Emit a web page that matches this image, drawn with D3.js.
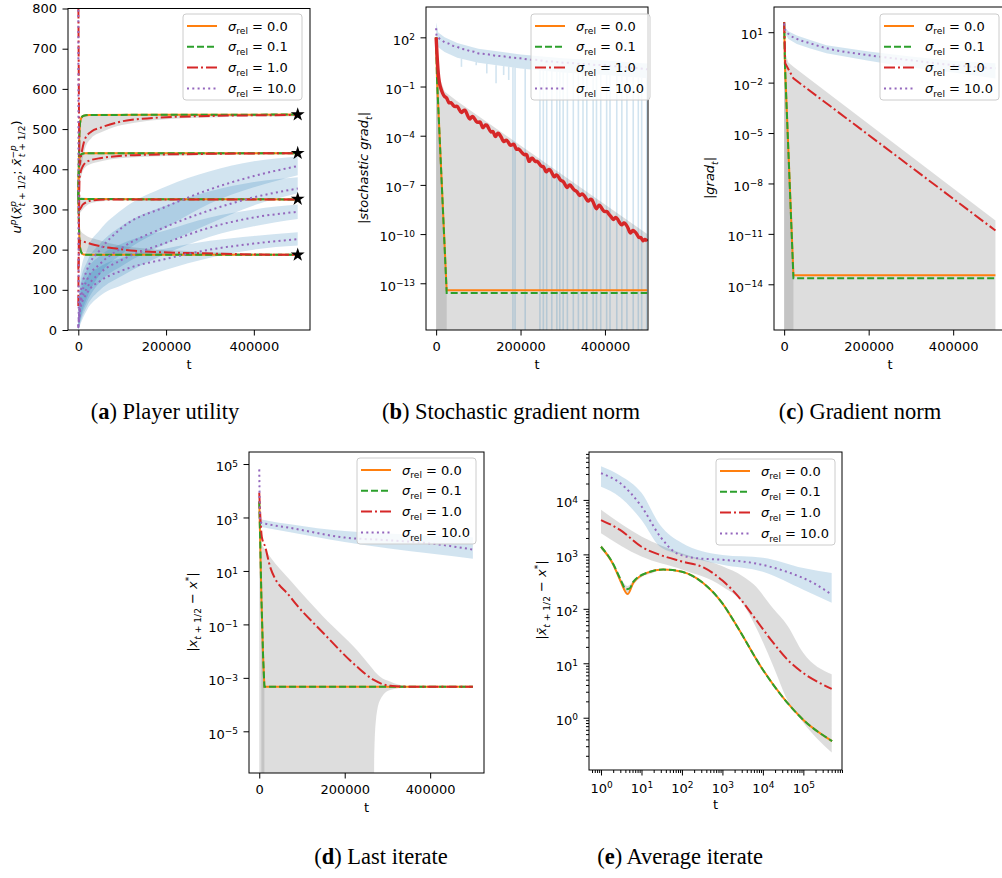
<!DOCTYPE html>
<html>
<head>
<meta charset="utf-8">
<script src="https://cdn.jsdelivr.net/npm/d3@7"></script>
<style>
  body { margin: 0; background: #fff; }
  svg { font-family: "DejaVu Sans", sans-serif; }
  .cap { font-family: "Liberation Serif", "Times New Roman", serif; }
</style>
</head>
<body>
<script>
// ---- data ----
// legend entries
const sigmas = ["0.0", "0.1", "1.0", "10.0"];
const captions = [["a", "Player utility"], ["b", "Stochastic gradient norm"], ["c", "Gradient norm"],
                  ["d", "Last iterate"], ["e", "Average iterate"]];

// (a) player utility, [t, value], one curve per player
const aTicksX = [0, 200000, 400000];
const aTicksY = [0, 100, 200, 300, 400, 500, 600, 700, 800];
const aStars = [536, 440, 326, 187];
const aSigma0 = [
  [[0, 330], [2000, 470], [4000, 515], [7000, 528], [12000, 533], [25000, 535], [500000, 536]],
  [[0, 330], [2000, 415], [4000, 432], [8000, 438], [15000, 440], [500000, 440]],
  [[0, 330], [3000, 326], [500000, 325]],
  [[0, 330], [2000, 240], [4000, 205], [7000, 193], [12000, 188], [25000, 187], [500000, 187]]
];
const aSigma01 = aSigma0; // identical to sigma 0.0 at this scale
const aSigma1 = [
  [[0, 850], [3000, 410], [6000, 431], [15000, 475], [30000, 494], [52000, 504], [128000, 524], [273000, 532], [500000, 535]],
  [[0, 60], [3000, 380], [10000, 407], [22000, 420], [52000, 428], [128000, 435], [273000, 438], [500000, 440]],
  [[0, 300], [3000, 300], [10000, 312], [30000, 322], [80000, 325], [500000, 325]],
  [[0, 150], [4000, 222], [10700, 220], [52000, 208], [90000, 202], [128000, 197], [205000, 193], [273000, 191], [400000, 188], [500000, 187]]
];
const aSigma10 = [
  [[0, 850], [1000, 20], [5000, 90], [20000, 150], [50000, 200], [100000, 255], [200000, 307], [300000, 350], [400000, 383], [500000, 408]],
  [[0, 10], [5000, 75], [20000, 125], [50000, 165], [100000, 205], [200000, 257], [300000, 298], [400000, 330], [500000, 352]],
  [[0, 8], [5000, 65], [20000, 105], [50000, 142], [100000, 175], [200000, 217], [300000, 255], [400000, 280], [500000, 294]],
  [[0, 5], [5000, 55], [20000, 92], [50000, 122], [100000, 148], [200000, 177], [300000, 200], [400000, 215], [500000, 226]]
];
// [t, low, high]
const aBand1 = [
  [[3000, 380, 520], [6000, 400, 530], [15000, 450, 534], [30000, 478, 535], [52000, 492, 536], [128000, 516, 537], [273000, 528, 537], [500000, 532, 538]],
  [[3000, 360, 436], [10000, 395, 441], [22000, 410, 442], [52000, 420, 443], [128000, 430, 443], [273000, 435, 442], [500000, 438, 442]],
  [[3000, 290, 332], [10000, 300, 330], [30000, 316, 328], [80000, 322, 327], [500000, 324, 326]],
  [[3000, 195, 250], [10700, 193, 240], [52000, 192, 222], [128000, 188, 205], [273000, 186, 195], [500000, 185, 189]]
];
const aBand10 = [
  [[0, 0, 50], [5000, 30, 140], [20000, 80, 200], [50000, 140, 250], [100000, 190, 300], [200000, 255, 357], [300000, 315, 395], [400000, 355, 420], [500000, 385, 432]],
  [[0, 0, 40], [5000, 25, 120], [20000, 70, 170], [50000, 120, 215], [100000, 160, 260], [200000, 215, 310], [300000, 265, 345], [400000, 310, 368], [500000, 340, 380]],
  [[0, 0, 30], [5000, 20, 108], [20000, 60, 150], [50000, 100, 185], [100000, 135, 215], [200000, 190, 248], [300000, 232, 280], [400000, 258, 300], [500000, 276, 312]],
  [[0, 0, 20], [5000, 15, 95], [20000, 50, 130], [50000, 85, 158], [100000, 112, 180], [200000, 150, 203], [300000, 180, 222], [400000, 200, 234], [500000, 210, 243]]
];

// (b) stochastic gradient norm, values are log10
const bTicksY = [2, -1, -4, -7, -10, -13];
const bSigma0 = [[0, 2.0], [2000, -0.5], [25000, -13.43], [500000, -13.43]];
const bSigma01 = [[0, 2.0], [2000, -0.5], [25000, -13.6], [500000, -13.6]];
const bGrid = d3.range(0, 500001, 5000);
const bSigma1 = [2.0, -0.5, -1.05, -1.4, -1.65,
  -1.64, -2.08, -1.92, -2.16, -2.25, -2.14, -2.43, -2.67, -2.41, -2.45,
  -2.81, -3.08, -2.75, -2.91, -3.15, -3.22, -3.08, -3.62, -3.36, -3.30,
  -3.57, -3.86, -3.63, -4.21, -3.79, -3.90, -4.11, -4.44, -4.23, -4.32,
  -4.63, -4.56, -4.47, -4.91, -4.75, -4.94, -5.08, -5.22, -5.03, -5.75,
  -5.31, -5.40, -5.62, -5.51, -5.75, -5.92, -5.81, -6.32, -6.06, -6.05,
  -6.29, -6.60, -6.31, -6.51, -6.77, -6.74, -6.93, -7.27, -6.96, -7.05,
  -7.27, -7.36, -7.42, -7.74, -7.49, -7.62, -7.81, -8.07, -7.83, -7.90,
  -8.23, -8.58, -8.17, -8.31, -8.55, -8.66, -8.58, -8.84, -8.93, -9.20,
  -8.91, -9.08, -9.32, -9.51, -9.25, -9.42, -9.61, -10.07, -9.71, -9.85,
  -9.94, -10.28, -10.12, -10.51, -10.25, -10.44];
const bSigma10 = [[0, 2.55], [1000, 2.05], [5000, 1.98], [10000, 1.88], [20000, 1.7], [30000, 1.62], [40000, 1.48],
  [50000, 1.42], [60000, 1.3], [70000, 1.27], [80000, 1.15], [90000, 1.12], [100000, 1.02], [120000, 0.98],
  [140000, 0.88], [160000, 0.84], [180000, 0.76], [200000, 0.72], [220000, 0.64], [240000, 0.62], [260000, 0.53],
  [280000, 0.52], [300000, 0.45], [320000, 0.44], [340000, 0.38], [360000, 0.37], [380000, 0.31], [400000, 0.3],
  [420000, 0.24], [440000, 0.21], [460000, 0.14], [480000, 0.12], [500000, 0.05]];
const bBand0 = [[0, -20, 2.0], [2000, -20, -0.4], [25000, -20, -13.3]];
const bBand1 = [[0, -20, 2.0], [2000, -20, 0.6], [5000, -20, 0.0], [10000, -20, -0.6], [20000, -20, -1.3],
  [50000, -20, -1.9], [100000, -20, -2.8], [200000, -20, -4.6], [300000, -20, -6.4], [400000, -20, -8.2], [500000, -20, -10.0]];
const bBand10 = [[0, 1.6, 2.9], [5000, 1.4, 2.3], [20000, 1.1, 2.0], [50000, 0.75, 1.65], [100000, 0.45, 1.3],
  [200000, 0.1, 0.95], [300000, -0.15, 0.72], [400000, -0.3, 0.58], [500000, -0.5, 0.4]];
// dips of the sigma=10 band: [t, lowest log10]
const bSpikes = [[60000, 0.2], [95000, 0.3], [120000, -0.2], [142000, -0.8], [160000, -0.3], [172000, -0.6],
  [182000, -20], [187000, -20], [211000, -20], [246000, -20], [254000, -20], [262000, -20], [274000, -20],
  [286000, -20], [293000, -20], [301000, -20], [311000, -20], [325000, -20], [337000, -20], [348000, -20],
  [357000, -20], [372000, -20], [380000, -20], [390000, -20], [404000, -20], [412000, -20], [428000, -20],
  [440000, -20], [452000, -20], [467000, -20], [479000, -20], [487000, -20], [499000, -20]];

// (c) gradient norm, log10
const cTicksY = [1, -2, -5, -8, -11, -14];
const cSigma0 = [[0, 1.6], [2000, -1.0], [22000, -13.46], [500000, -13.46]];
const cSigma01 = [[0, 1.6], [2000, -1.0], [22000, -13.64], [500000, -13.64]];
const cSigma1 = [[0, 1.6], [2500, -0.85], [22000, -1.75], [500000, -10.8]];
const cSigma10 = [[0, 1.52], [3000, 1.1], [10000, 0.9], [30000, 0.6], [60000, 0.35], [100000, 0.05],
  [200000, -0.37], [300000, -0.67], [400000, -0.96], [500000, -1.15]];
const cBand0 = [[0, -20, 1.7], [2000, -20, -0.9], [22000, -20, -13.3]];
const cBand1 = [[0, -20, 1.6], [3000, -20, -0.3], [10000, -20, -0.8], [22000, -20, -1.05], [500000, -20, -10.2]];
const cBand10 = [[0, 1.3, 1.7], [3000, 0.9, 1.25], [10000, 0.6, 1.05], [30000, 0.3, 0.8], [60000, 0.05, 0.55],
  [100000, -0.25, 0.23], [200000, -0.7, -0.15], [300000, -1.1, -0.45], [400000, -1.4, -0.7], [500000, -1.76, -0.85]];

// (d) last iterate, log10
const dTicksY = [5, 3, 1, -1, -3, -5];
const dSigma0 = [[0, 3.6], [2000, 2.3], [5000, 0.0], [9000, -2.2], [12000, -3.33], [500000, -3.33]];
const dSigma01 = dSigma0;
const dSigma1 = [[0, 3.93], [6000, 2.27], [14000, 1.9], [25700, 1.14], [72500, 0.03], [150400, -1.33],
  [228500, -2.58], [267000, -3.07], [306400, -3.30], [350000, -3.33], [500000, -3.33]];
const dSigma10 = [[0, 4.8], [2000, 2.82], [20000, 2.75], [72500, 2.61], [200000, 2.25], [300000, 2.15], [400000, 2.03], [500000, 1.8]];
const dBand0 = [[0, -20, 3.6], [5000, -20, 0.0], [12000, -20, -3.33]];
const dBand1 = [[5000, -20, 2.0], [25700, -20, 1.52], [72500, -20, 0.65], [150400, -20, -0.72], [228500, -20, -1.96],
  [267000, -20, -2.70], [269000, -6.0, -2.74], [273000, -4.6, -2.81], [283000, -3.82, -2.96], [306000, -3.45, -3.14],
  [345000, -3.36, -3.31], [400000, -3.34, -3.32], [500000, -3.34, -3.32]];
const dBand10 = [[0, 2.8, 4.9], [2000, 2.65, 2.95], [20000, 2.6, 2.88], [72500, 2.45, 2.75], [200000, 2.08, 2.49],
  [300000, 1.85, 2.4], [400000, 1.65, 2.33], [500000, 1.46, 2.26]];

// (e) average iterate, [log10 t, log10 value]
const eTicksX = [0, 1, 2, 3, 4, 5];
const eTicksY = [0, 1, 2, 3, 4];
const eSigma0 = [[0, 3.14], [0.305, 2.81], [0.47, 2.53], [0.66, 2.27], [0.8, 2.48], [1.13, 2.66], [1.54, 2.72],
  [2.0, 2.68], [2.53, 2.47], [3.0, 2.10], [3.36, 1.68], [4.0, 0.88], [5.0, -0.04], [5.71, -0.43]];
const eSigma01 = [[0, 3.14], [0.305, 2.82], [0.47, 2.56], [0.62, 2.36], [0.7, 2.37], [0.8, 2.5], [1.13, 2.66], [1.54, 2.72],
  [2.0, 2.68], [2.53, 2.47], [3.0, 2.10], [3.36, 1.68], [4.0, 0.88], [5.0, -0.04], [5.71, -0.43]];
const eSigma1 = [[0, 3.63], [0.47, 3.45], [1.0, 3.14], [1.46, 2.99], [2.0, 2.87], [2.53, 2.76], [3.0, 2.52],
  [3.4, 2.22], [3.77, 1.86], [4.2, 1.43], [4.59, 1.08], [5.0, 0.82], [5.35, 0.66], [5.70, 0.53]];
const eSigma10 = [[0, 4.49], [0.47, 4.31], [1.0, 3.88], [1.46, 3.33], [1.87, 3.02], [2.36, 2.93], [3.0, 2.90],
  [3.77, 2.84], [4.59, 2.68], [5.26, 2.47], [5.70, 2.26]];
const eBand0 = [[0, 3.1, 3.17], [0.3, 2.78, 2.85], [0.47, 2.5, 2.58], [0.66, 2.25, 2.42], [0.8, 2.44, 2.52], [1.0, 2.58, 2.62], [1.3, 2.66, 2.7]];
const eBand1 = [[0, 3.39, 3.82], [1.0, 2.96, 3.33], [2.0, 2.72, 3.02], [3.0, 2.41, 2.78], [3.5, 2.1, 2.6],
  [3.77, 1.75, 2.45], [4.26, 0.94, 2.0], [4.6, 0.33, 1.7], [5.0, -0.09, 1.19], [5.7, -0.64, 0.8]];
const eBand10 = [[0, 4.24, 4.62], [0.47, 4.05, 4.45], [1.0, 3.63, 4.13], [1.46, 3.14, 3.54], [2.0, 2.99, 3.21], [3.0, 2.81, 2.99],
  [4.0, 2.68, 2.94], [5.0, 2.35, 2.75], [5.7, 2.11, 2.66]];

// ---- styles ----
const styles = [
  {color: "#ff7f0e", dash: null},
  {color: "#2ca02c", dash: "7,3"},
  {color: "#d62728", dash: "11,3,2,3"},
  {color: "#9467bd", dash: "2,3.3"}
];
const grey = "#808080", blue = "#1f77b4";
const FS = 13;

const svg = d3.select("body").append("svg").attr("width", 1002).attr("height", 878);

function makePanel(id, x, y, logX, logY, curve) {
  const [x0, x1] = x.range(), [yb, yt] = y.range();
  svg.append("clipPath").attr("id", id).append("rect")
    .attr("x", x0).attr("y", yt).attr("width", x1 - x0).attr("height", yb - yt);
  const g = svg.append("g");
  const p = {g, x, y, x0, x1, yb, yt, logX, logY, curve: curve || d3.curveLinear,
    X: v => x(logX ? Math.pow(10, v) : v),
    Y: v => y(logY ? Math.pow(10, v) : v)};
  p.plot = g.append("g").attr("clip-path", `url(#${id})`);
  return p;
}

function band(p, rows, color, op) {
  p.plot.append("path").datum(rows)
    .attr("fill", color).attr("fill-opacity", op)
    .attr("d", d3.area().curve(p.curve).x(d => p.X(d[0])).y0(d => p.Y(d[1])).y1(d => p.Y(d[2])));
}

function line(p, pts, k, w, dash, curve) {
  p.plot.append("path").datum(pts)
    .attr("fill", "none").attr("stroke", styles[k].color)
    .attr("stroke-width", w || 2)
    .attr("stroke-dasharray", dash === undefined ? styles[k].dash : dash)
    .attr("d", d3.line().curve(curve || p.curve).x(d => p.X(d[0])).y(d => p.Y(d[1])));
}

// text with italic / sub / superscript pieces
function mathText(t, parts, size) {
  let off = 0;
  const small = Math.round(size * 0.7 * 10) / 10;
  parts.forEach(([s, kind, dx]) => {
    const sub = kind.includes("sub"), sup = kind.includes("sup");
    const target = sub ? size * 0.28 : sup ? -size * 0.4 : 0;
    const ts = t.append("tspan").text(s).attr("dy", target - off);
    if (dx) ts.attr("dx", dx);
    if (kind[0] === "i") ts.attr("font-style", "italic");
    if (sub || sup) ts.attr("font-size", small + "px");
    off = target;
  });
}

function powLabels(sel) {
  sel.selectAll(".tick text").each(function(d) {
    const k = Math.round(Math.log10(d));
    const t = d3.select(this).text("10");
    t.append("tspan").attr("dy", "-0.5em").attr("font-size", "9px").text(k < 0 ? "\u2212" + (-k) : k);
  });
}

function frame(p, xTicks, yTicks, xMinor, yMinor) {
  const xv = p.logX ? xTicks.map(e => Math.pow(10, e)) : xTicks;
  const yv = p.logY ? yTicks.map(e => Math.pow(10, e)) : yTicks;
  const ax = p.g.append("g").attr("transform", `translate(0,${p.yb})`)
    .call(d3.axisBottom(p.x).tickValues(xv).tickSize(5.5).tickPadding(p.logX ? 8 : 6.5)
      .tickFormat(p.logX ? "" : d3.format("d")));
  const ay = p.g.append("g").attr("transform", `translate(${p.x0},0)`)
    .call(d3.axisLeft(p.y).tickValues(yv).tickSize(5.5).tickPadding(5.5)
      .tickFormat(p.logY ? "" : d3.format("d")));
  [ax, ay].forEach(a => {
    a.attr("font-size", FS).attr("font-family", null);
    a.select(".domain").remove();
    a.selectAll(".tick line").attr("stroke", "#000");
    a.selectAll(".tick text").attr("fill", "#000");
  });
  if (p.logX) powLabels(ax);
  if (p.logY) { powLabels(ay); ay.selectAll(".tick text").attr("dy", "0.52em"); }
  if (xMinor) p.g.append("g").attr("transform", `translate(0,${p.yb})`)
    .call(d3.axisBottom(p.x).tickValues(xMinor).tickSize(3).tickFormat(""))
    .call(a => a.select(".domain").remove());
  if (yMinor) p.g.append("g").attr("transform", `translate(${p.x0},0)`)
    .call(d3.axisLeft(p.y).tickValues(yMinor).tickSize(3).tickFormat(""))
    .call(a => a.select(".domain").remove());
  p.g.append("rect").attr("x", p.x0).attr("y", p.yt)
    .attr("width", p.x1 - p.x0).attr("height", p.yb - p.yt)
    .attr("fill", "none").attr("stroke", "#000").attr("stroke-width", 1);
  p.g.append("text").attr("x", (p.x0 + p.x1) / 2).attr("y", p.yb + 38.5)
    .attr("text-anchor", "middle").attr("font-size", FS).text("t");
}

function yLabel(p, x, y, parts) {
  const t = p.g.append("text").attr("transform", `translate(${x},${y}) rotate(-90)`)
    .attr("text-anchor", "middle").attr("font-size", FS);
  mathText(t, parts, FS);
}

function legend(p, lx, ly) {
  const g = p.g.append("g").attr("transform", `translate(${lx},${ly})`);
  g.append("rect").attr("width", 119).attr("height", 86).attr("rx", 3)
    .attr("fill", "#fff").attr("fill-opacity", 0.8).attr("stroke", "#cccccc");
  sigmas.forEach((v, i) => {
    const yy = 12 + i * 20.8;
    g.append("line").attr("x1", 4).attr("x2", 34).attr("y1", yy).attr("y2", yy)
      .attr("stroke", styles[i].color).attr("stroke-width", 2).attr("stroke-dasharray", styles[i].dash);
    const t = g.append("text").attr("x", 45).attr("y", yy + 4.5).attr("font-size", FS);
    mathText(t, [["\u03c3", "i"], ["rel", "sub"], [" = " + v, "n"]], FS);
  });
}

function logMinor(lo, hi) {
  const out = [];
  for (let n = Math.floor(lo); n <= Math.ceil(hi); n++)
    for (let k = 2; k <= 9; k++) {
      const v = k * Math.pow(10, n);
      if (Math.log10(v) > lo && Math.log10(v) < hi) out.push(v);
    }
  return out;
}

// ---- (a) ----
{
  const p = makePanel("ca", d3.scaleLinear().domain([-23500, 528000]).range([68, 310]),
    d3.scaleLinear().domain([0, 800]).range([330, 8.5]), false, false, d3.curveMonotoneX);
  aBand1.forEach(b => band(p, b, grey, 0.27));
  aBand10.forEach(b => band(p, b, blue, 0.2));
  aSigma0.forEach(c => line(p, c, 0));
  aSigma01.forEach(c => line(p, c, 1));
  aSigma1.forEach(c => line(p, c, 2));
  aSigma10.forEach(c => line(p, c, 3));
  frame(p, aTicksX, aTicksY);
  p.g.selectAll(".star").data(aStars).join("path")
    .attr("transform", d => `translate(${p.X(500000)},${p.Y(d)})`)
    .attr("d", d3.symbol().type(d3.symbolStar).size(60)).attr("fill", "#000");
  yLabel(p, 21, 177, [["u", "i"], ["p", "isup"], ["(", "n"], ["x\u0304", "i"], ["p", "isup"], ["t", "isub", -5.5],
    [" + 1/2", "sub"], ["; ", "n"], ["x\u0304", "i"], ["\u2212p", "isup"], ["t", "isub", -12], [" + 1/2", "sub"], [")", "n"]]);
  legend(p, 183, 14);
}

// ---- (b) ----
{
  const p = makePanel("cb", d3.scaleLinear().domain([-24000, 502000]).range([426, 648]),
    d3.scaleLog().domain([Math.pow(10, -15.85), Math.pow(10, 3.85)]).range([330, 7]), false, true);
  band(p, bBand1, grey, 0.27);
  band(p, bBand0, grey, 0.27);
  band(p, bBand10, blue, 0.2);
  const lo10 = d3.scaleLinear().domain(bBand10.map(d => d[0])).range(bBand10.map(d => d[1]));
  p.plot.selectAll(".spike").data(bSpikes).join("line")
    .attr("x1", d => p.X(d[0])).attr("x2", d => p.X(d[0]))
    .attr("y1", d => p.Y(lo10(d[0]))).attr("y2", d => p.Y(d[1]))
    .attr("stroke", blue).attr("stroke-opacity", 0.2).attr("stroke-width", 1.6);
  line(p, bSigma0, 0);
  line(p, bSigma01, 1);
  line(p, bGrid.map((t, i) => [t, bSigma1[i]]), 2, 3.4, null, d3.curveBasis);
  line(p, bSigma10, 3);
  frame(p, aTicksX, bTicksY);
  yLabel(p, 368, 168, [["|", "n"], ["stochastic grad", "i"], ["t", "isub"], ["|", "n"]]);
  legend(p, 531, 14);
}

// ---- (c) ----
{
  const p = makePanel("cc", d3.scaleLinear().domain([-24000, 525000]).range([774, 1006]),
    d3.scaleLog().domain([Math.pow(10, -16.72), Math.pow(10, 2.5)]).range([330, 7]), false, true);
  band(p, cBand1, grey, 0.27);
  band(p, cBand0, grey, 0.27);
  band(p, cBand10, blue, 0.2);
  line(p, cSigma0, 0);
  line(p, cSigma01, 1);
  line(p, cSigma1, 2);
  line(p, cSigma10, 3, 2, undefined, d3.curveMonotoneX);
  frame(p, aTicksX, cTicksY);
  yLabel(p, 714, 178, [["|", "n"], ["grad", "i"], ["t", "isub"], ["|", "n"]]);
  legend(p, 880, 14);
}

// ---- (d) ----
{
  const p = makePanel("cd", d3.scaleLinear().domain([-24000, 526000]).range([249, 484]),
    d3.scaleLog().domain([Math.pow(10, -6.56), Math.pow(10, 5.45)]).range([773, 452]), false, true, d3.curveMonotoneX);
  band(p, dBand1, grey, 0.27);
  band(p, dBand0, grey, 0.27);
  band(p, dBand10, blue, 0.2);
  line(p, dSigma0, 0, 2, undefined, d3.curveLinear);
  line(p, dSigma01, 1, 2, undefined, d3.curveLinear);
  line(p, dSigma1, 2);
  line(p, dSigma10, 3);
  frame(p, aTicksX, dTicksY);
  yLabel(p, 197, 612, [["|", "n"], ["x", "i"], ["t", "isub"], [" + 1/2", "sub"], [" \u2212 ", "n"], ["x", "i"], ["*", "sup"], ["|", "n"]]);
  legend(p, 357, 458);
}

// ---- (e) ----
{
  const p = makePanel("ce", d3.scaleLog().domain([Math.pow(10, -0.297), Math.pow(10, 5.955)]).range([589, 842]),
    d3.scaleLog().domain([Math.pow(10, -0.96), Math.pow(10, 4.88)]).range([770, 452]), true, true, d3.curveMonotoneX);
  band(p, eBand1, grey, 0.27);
  band(p, eBand0, grey, 0.27);
  band(p, eBand10, blue, 0.2);
  line(p, eSigma0, 0);
  line(p, eSigma01, 1);
  line(p, eSigma1, 2);
  line(p, eSigma10, 3);
  frame(p, eTicksX, eTicksY, logMinor(-0.297, 5.955), logMinor(-0.96, 4.88));
  yLabel(p, 546, 600, [["|", "n"], ["x\u0304", "i"], ["t", "isub"], [" + 1/2", "sub"], [" \u2212 ", "n"], ["x", "i"], ["*", "sup"], ["|", "n"]]);
  legend(p, 716, 459);
}

// ---- captions ----
const capPos = [[165, 419], [511, 419], [860, 419], [381, 864], [680, 864]];
captions.forEach(([letter, title], i) => {
  const t = svg.append("text").attr("class", "cap")
    .attr("x", capPos[i][0]).attr("y", capPos[i][1])
    .attr("text-anchor", "middle").attr("font-size", 22.5);
  t.append("tspan").text("(");
  t.append("tspan").attr("font-weight", "bold").text(letter);
  t.append("tspan").text(") " + title);
});
</script>
</body>
</html>
